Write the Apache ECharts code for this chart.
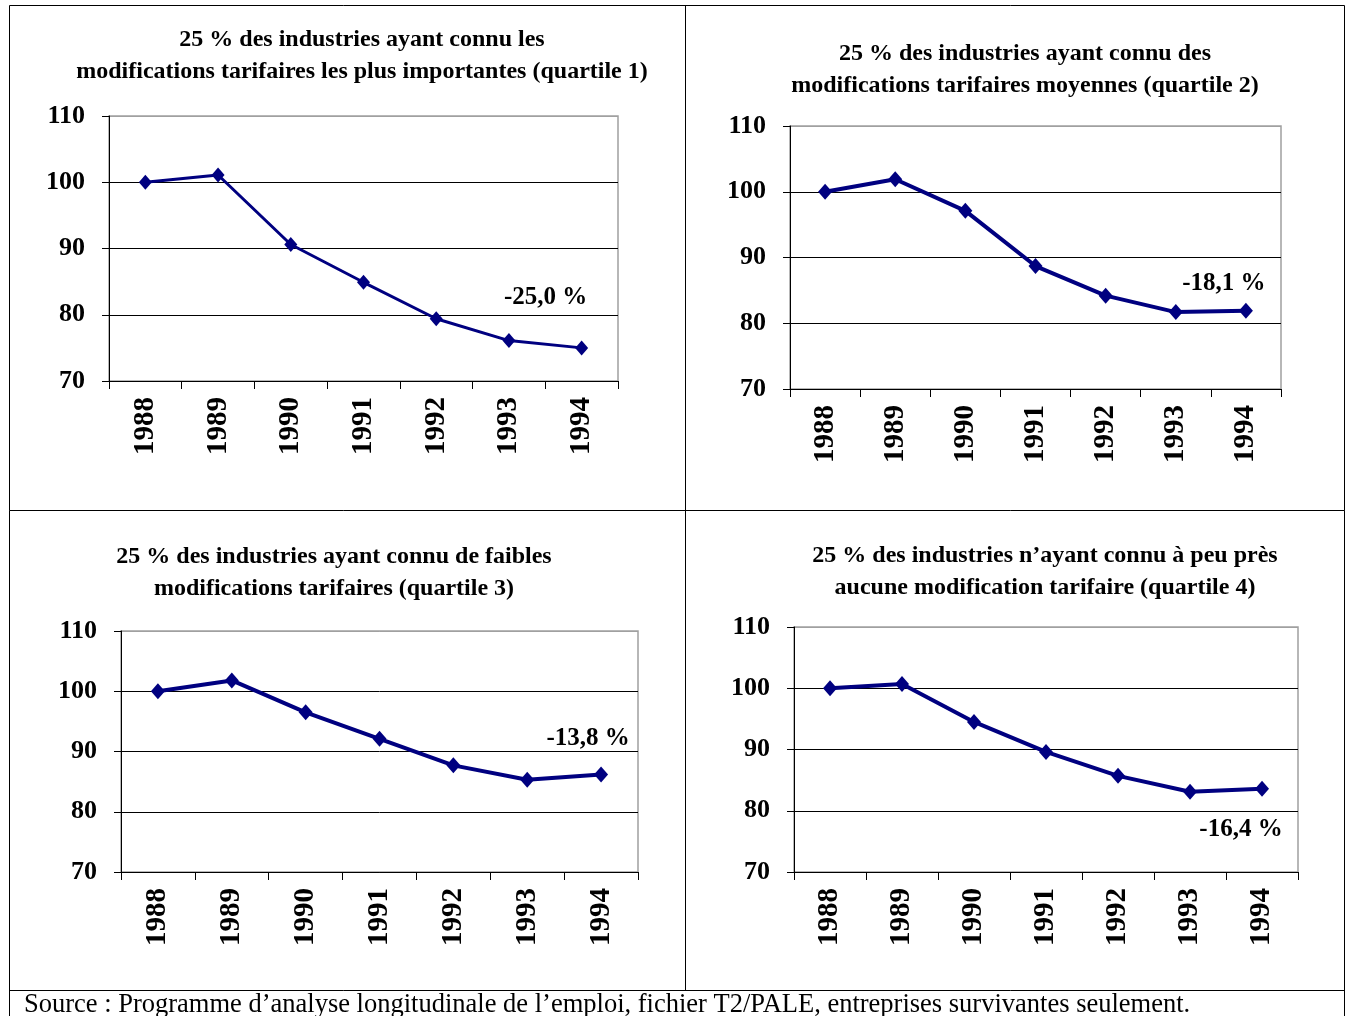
<!DOCTYPE html>
<html>
<head>
<meta charset="utf-8">
<script src="https://cdn.jsdelivr.net/npm/echarts@6/dist/echarts.min.js"></script>
<style>
  html, body { margin: 0; padding: 0; background: #ffffff; }
  #chart { width: 1348px; height: 1016px; }
</style>
</head>
<body>
<div id="chart"></div>
<script>
// Years on the horizontal axis
const years = ['1988', '1989', '1990', '1991', '1992', '1993', '1994'];

// Employment index (1988 = 100) for each tariff-change quartile
const quartile1 = [100, 101.1, 90.6, 84.9, 79.4, 76.1, 75.0];
const quartile2 = [100, 101.9, 97.1, 88.7, 84.2, 81.7, 81.9];
const quartile3 = [100, 101.8, 96.5, 92.1, 87.7, 85.3, 86.2];
const quartile4 = [100, 100.7, 94.5, 89.6, 85.7, 83.1, 83.6];

// Vertical axis range and step
const yMin = 70;
const yMax = 110;
const yStep = 10;

// Panel titles
const titles = [
  '25 % des industries ayant connu les\nmodifications tarifaires les plus importantes (quartile 1)',
  '25 % des industries ayant connu des\nmodifications tarifaires moyennes (quartile 2)',
  '25 % des industries ayant connu de faibles\nmodifications tarifaires (quartile 3)',
  '25 % des industries n’ayant connu à peu près\naucune modification tarifaire (quartile 4)'
];

const sourceNote = 'Source : Programme d’analyse longitudinale de l’emploi, fichier T2/PALE, entreprises survivantes seulement.';

const seriesValues = [quartile1, quartile2, quartile3, quartile4];

// Layout of the four panels: plot rectangle, title centre, label offset, line weight
const panels = [
  { grid: { left: 109, top: 116, width: 509, height: 265 }, title: [362, 56], labelOffset: [-36, -50], lineWidth: 3, symbolSize: [13, 15] },
  { grid: { left: 790, top: 126, width: 491, height: 263 }, title: [1025, 70], labelOffset: [-22, -27], lineWidth: 4, symbolSize: [14, 16] },
  { grid: { left: 121, top: 631, width: 517, height: 241 }, title: [334, 573], labelOffset: [-13, -36], lineWidth: 4, symbolSize: [14, 16] },
  { grid: { left: 794, top: 627, width: 504, height: 245 }, title: [1045, 572], labelOffset: [-21, 41], lineWidth: 4, symbolSize: [14, 16] }
];

const FONT = '"Liberation Serif", "Times New Roman", serif';
const NAVY = '#000080';

// Overall change from the first to the last year, written the French way
function changeLabel(values) {
  const first = values[0];
  const last = values[values.length - 1];
  const pct = (last - first) / first * 100;
  return pct.toFixed(1).replace('.', ',') + ' %';
}

function buildSeriesData(values, offset) {
  const text = changeLabel(values);
  return values.map((v, i) => {
    if (i !== values.length - 1) return v;
    return {
      value: v,
      label: {
        show: true,
        position: 'inside',
        offset: offset,
        formatter: text,
        color: '#000',
        fontFamily: FONT,
        fontWeight: 'bold',
        fontSize: 25
      }
    };
  });
}

const grids = [];
const xAxes = [];
const yAxes = [];
const series = [];
const graphics = [];

panels.forEach((p, i) => {
  grids.push(Object.assign({
    show: true,
    borderColor: '#a0a0a0',
    borderWidth: 1.5,
    backgroundColor: '#ffffff',
    containLabel: false
  }, p.grid));

  xAxes.push({
    type: 'category',
    gridIndex: i,
    data: years,
    boundaryGap: true,
    axisLine: { show: true, lineStyle: { color: '#000', width: 1 } },
    axisTick: { show: true, inside: false, length: 8, interval: 0, lineStyle: { color: '#000', width: 1 } },
    axisLabel: {
      rotate: 90,
      margin: 16,
      interval: 0,
      color: '#000',
      fontFamily: FONT,
      fontWeight: 'bold',
      fontSize: 29
    },
    splitLine: { show: false }
  });

  yAxes.push({
    type: 'value',
    gridIndex: i,
    min: yMin,
    max: yMax,
    interval: yStep,
    axisLine: { show: true, lineStyle: { color: '#000', width: 1 } },
    axisTick: { show: true, inside: false, length: 7, lineStyle: { color: '#000', width: 1 } },
    axisLabel: {
      margin: 24,
      padding: [4, 0, 0, 0],
      color: '#000',
      fontFamily: FONT,
      fontWeight: 'bold',
      fontSize: 26
    },
    splitLine: {
      show: true,
      lineStyle: { color: ['#000', '#000', '#000', '#000', '#a0a0a0'], width: 1 }
    }
  });

  series.push({
    type: 'line',
    xAxisIndex: i,
    yAxisIndex: i,
    data: buildSeriesData(seriesValues[i], p.labelOffset),
    symbol: 'diamond',
    symbolSize: p.symbolSize,
    showSymbol: true,
    lineStyle: { color: NAVY, width: p.lineWidth },
    itemStyle: { color: NAVY },
    label: { show: false },
    silent: true,
    z: 3
  });

  graphics.push({
    type: 'text',
    x: p.title[0],
    y: p.title[1],
    style: {
      text: titles[i],
      align: 'center',
      verticalAlign: 'middle',
      fill: '#000',
      font: 'bold 24px ' + FONT,
      lineHeight: 32
    }
  });
});

// Table frame around the panels and the source line
const frameLines = [
  [9.5, 5.5, 1344.5, 5.5],
  [9.5, 510.5, 1344.5, 510.5],
  [9.5, 990.5, 1344.5, 990.5],
  [9.5, 5.5, 9.5, 1016],
  [1344.5, 5.5, 1344.5, 1016],
  [685.5, 5.5, 685.5, 990.5]
];
frameLines.forEach(l => {
  graphics.push({
    type: 'line',
    shape: { x1: l[0], y1: l[1], x2: l[2], y2: l[3] },
    style: { stroke: '#000', lineWidth: 1 },
    silent: true
  });
});

graphics.push({
  type: 'text',
  x: 24,
  y: 1005,
  style: {
    text: sourceNote,
    align: 'left',
    verticalAlign: 'middle',
    fill: '#000',
    font: '26.5px ' + FONT
  }
});

const chart = echarts.init(document.getElementById('chart'), null, { renderer: 'canvas' });
chart.setOption({
  animation: false,
  backgroundColor: '#ffffff',
  grid: grids,
  xAxis: xAxes,
  yAxis: yAxes,
  series: series,
  graphic: graphics
});
</script>
</body>
</html>
